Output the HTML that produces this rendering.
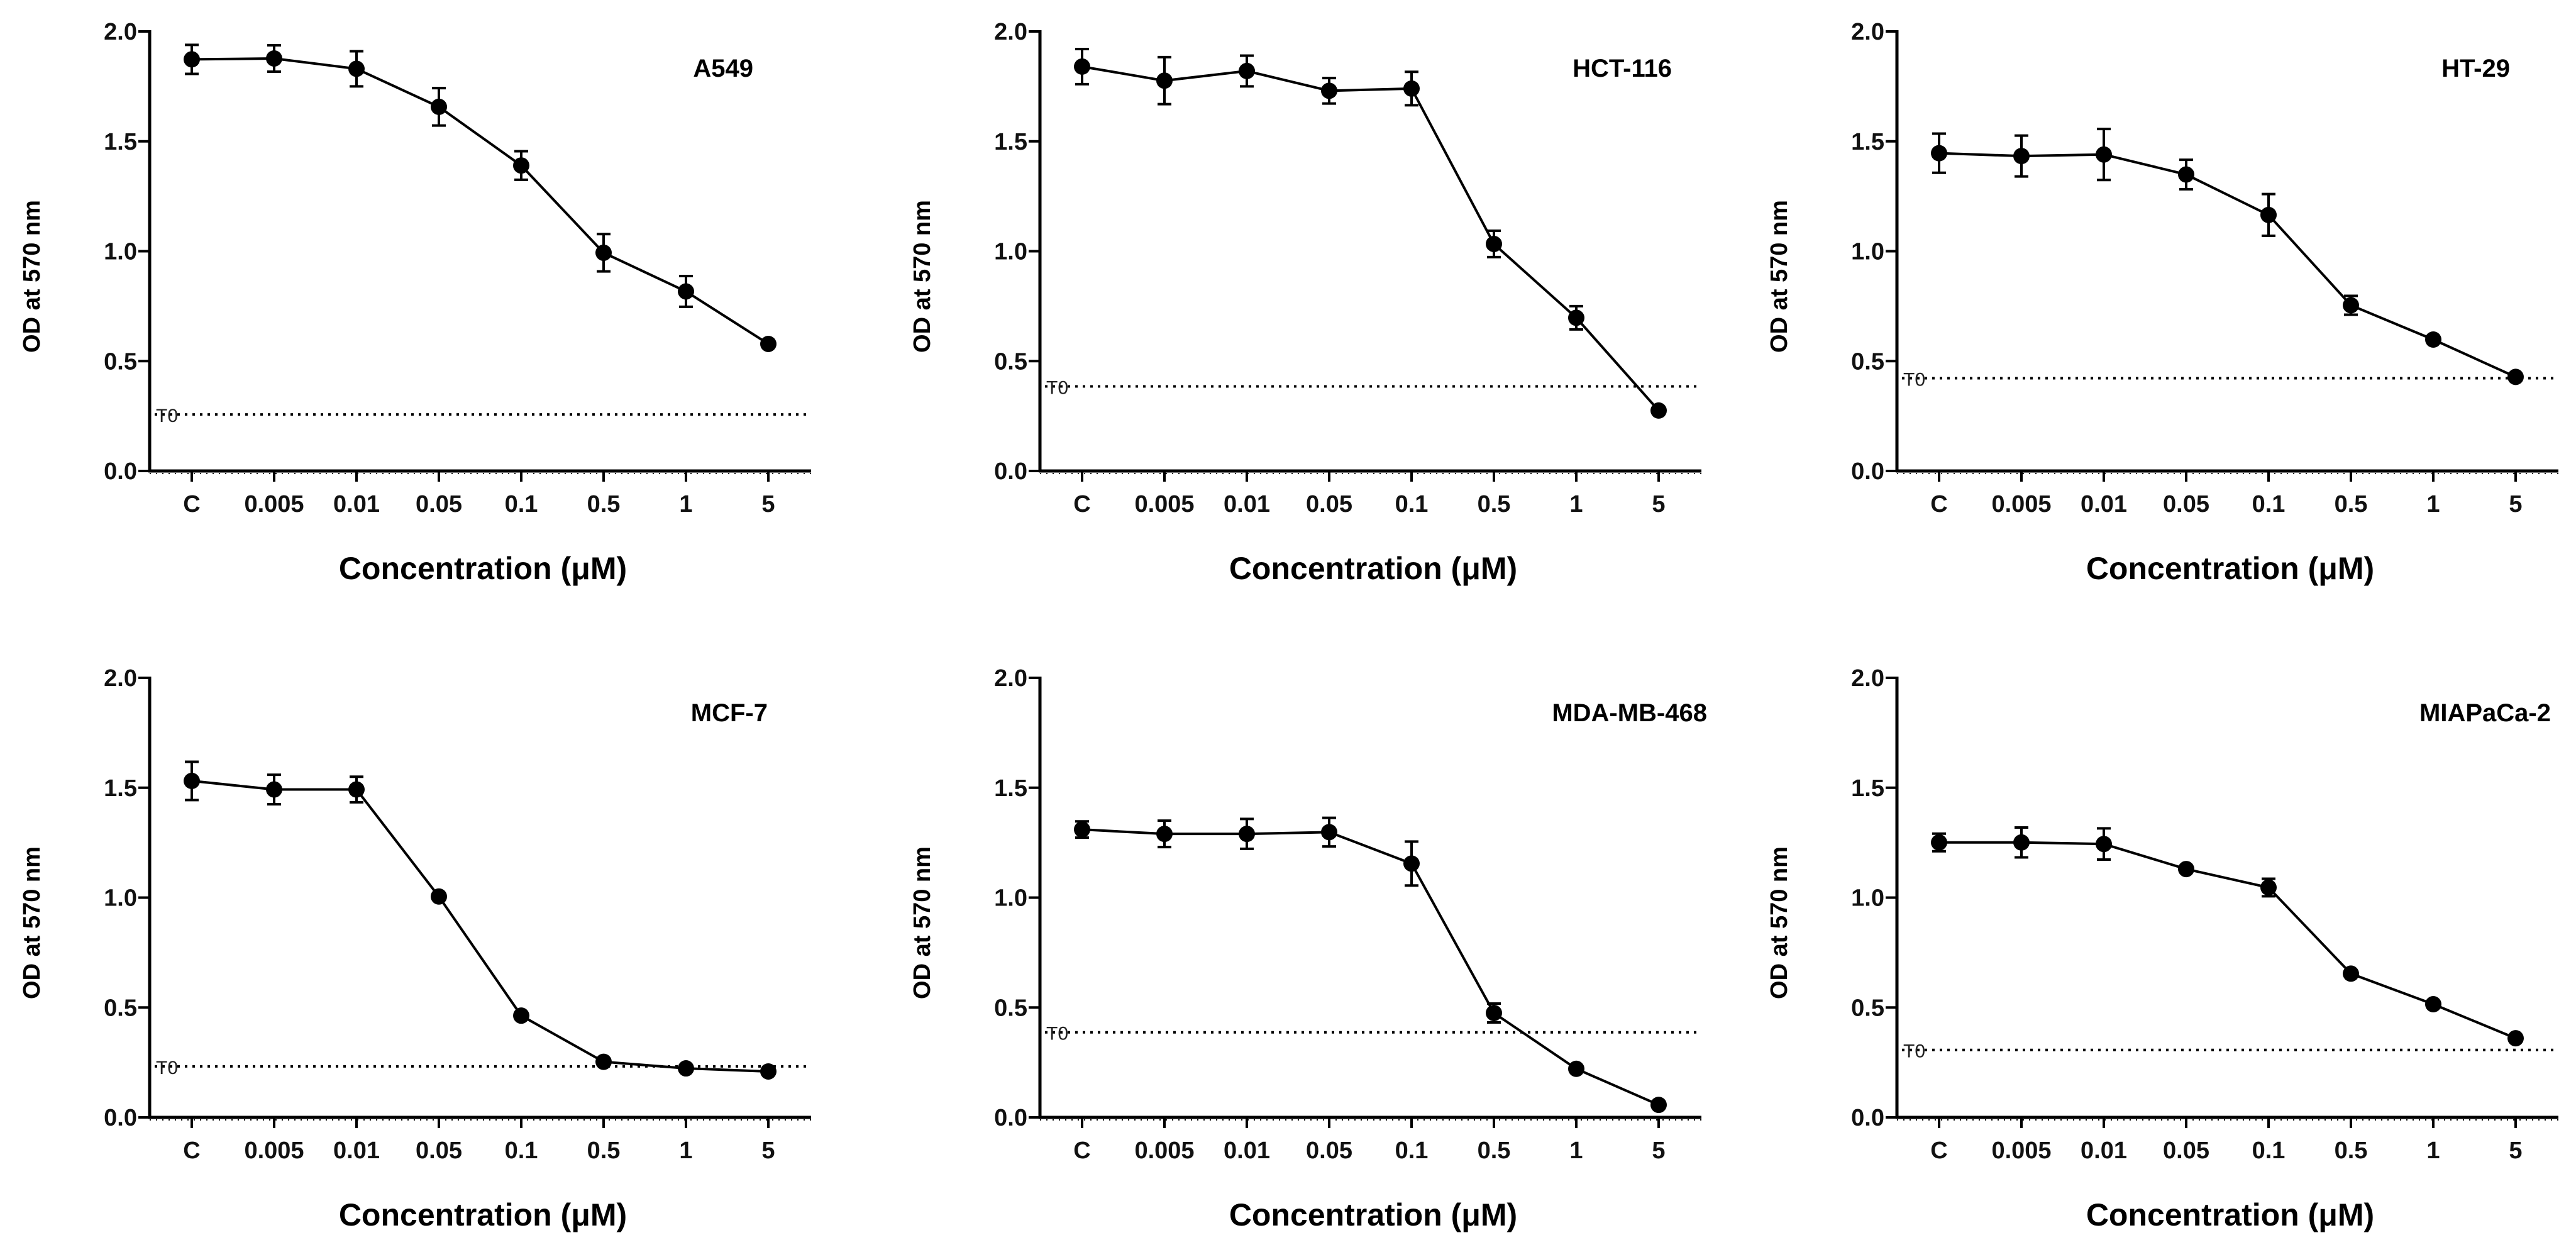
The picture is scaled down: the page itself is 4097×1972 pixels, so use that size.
<!DOCTYPE html>
<html><head><meta charset="utf-8"><style>
html,body{margin:0;padding:0;background:#fff;}
svg{display:block;}
.tick{font-family:"Liberation Sans Narrow","Liberation Sans",sans-serif;font-weight:bold;font-size:38px;fill:#111;}
.ttl{font-family:"Liberation Sans Narrow","Liberation Sans",sans-serif;font-weight:bold;font-size:50px;fill:#000;}
.yt{font-family:"Liberation Sans",sans-serif;font-weight:bold;font-size:38px;fill:#000;}
.lab{font-family:"Liberation Sans Narrow","Liberation Sans",sans-serif;font-weight:bold;font-size:40px;fill:#000;}
.t0{font-family:"Liberation Sans Narrow","Liberation Sans",sans-serif;font-size:30px;fill:#222;}
</style></head><body>
<svg id="fig" width="4097" height="1972" viewBox="0 0 4097 1972" xmlns="http://www.w3.org/2000/svg"></svg>
<script>
const categories = ["C","0.005","0.01","0.05","0.1","0.5","1","5"];
const yTicks = [0,0.5,1.0,1.5,2.0];
const yTickLabels = ["0.0","0.5","1.0","1.5","2.0"];
const panelNames = ["A549","HCT-116","HT-29","MCF-7","MDA-MB-468","MIAPaCa-2"];
const valsA549 = [1.873,1.877,1.83,1.657,1.39,0.993,0.817,0.578];
const errA549 = [0.066,0.06,0.08,0.085,0.065,0.085,0.07,0.01];
const valsHCT = [1.84,1.776,1.82,1.73,1.74,1.033,0.697,0.275];
const errHCT = [0.08,0.107,0.07,0.058,0.076,0.06,0.053,0.01];
const valsHT = [1.446,1.433,1.44,1.349,1.165,0.754,0.598,0.428];
const errHT = [0.089,0.093,0.116,0.067,0.095,0.043,0.015,0.01];
const valsMCF = [1.531,1.492,1.492,1.005,0.463,0.253,0.223,0.209];
const errMCF = [0.087,0.067,0.058,0.01,0.01,0.01,0.01,0.01];
const valsMDA = [1.31,1.29,1.29,1.298,1.155,0.475,0.221,0.057];
const errMDA = [0.037,0.06,0.068,0.065,0.1,0.043,0.01,0.01];
const valsMIA = [1.251,1.251,1.244,1.13,1.046,0.654,0.515,0.36];
const errMIA = [0.04,0.068,0.071,0.015,0.04,0.01,0.01,0.01];
const t0Values = [0.257,0.385,0.422,0.232,0.387,0.307];
const seriesVals = [valsA549,valsHCT,valsHT,valsMCF,valsMDA,valsMIA];
const seriesErr = [errA549,errHCT,errHT,errMCF,errMDA,errMIA];

const NS="http://www.w3.org/2000/svg";
const svg=document.getElementById('fig');
function mk(tag,attrs,parent){const e=document.createElementNS(NS,tag);for(const k in attrs)e.setAttribute(k,attrs[k]);(parent||svg).appendChild(e);return e;}

const axX=[238,1654,3017];
const rowTop=[50,1078], rowBot=[749,1777];
const labRight=[1198,2659,3992,1221,2715,4057];
const labY=[122,122,122,1147,1147,1147];

for(let p=0;p<6;p++){
  const col=p%3,row=Math.floor(p/3);
  const ax=axX[col], y0=rowBot[row], y2=rowTop[row];
  const xAxisEnd=ax+1052;
  const g=mk('g',{});
  
  
  const yScale=v=>y0-(v/2)*(y0-y2);
  const xScale=i=>ax+67+i*131;
  // axes
  const ya=mk('line',{x1:ax,y1:y2-2,x2:ax,y2:y0+2,stroke:'#000','stroke-width':5},g);
  
  
  const xa=mk('line',{x1:ax-2,y1:y0,x2:xAxisEnd,y2:y0,stroke:'#000','stroke-width':5},g);
  
  
  mk('line',{x1:ax,y1:y0+4,x2:xAxisEnd,y2:y0+4,stroke:'#000','stroke-width':2,'stroke-dasharray':'2 8'},g);
  yTicks.forEach((v,i)=>{
    const y=yScale(v);
    mk('line',{x1:ax-18,y1:y,x2:ax,y2:y,stroke:'#000','stroke-width':4},g);
    const t=mk('text',{x:ax-20,y:y+13,'text-anchor':'end',class:'tick'},g);
    t.textContent=yTickLabels[i];
    
    
  });
  categories.forEach((c,i)=>{
    const x=xScale(i);
    mk('line',{x1:x,y1:y0,x2:x,y2:y0+17,stroke:'#000','stroke-width':4},g);
    const t=mk('text',{x:x,y:y0+65,'text-anchor':'middle',class:'tick'},g);
    t.textContent=c;
    
    
  });
  // titles
  const xt=mk('text',{x:ax+530,y:y0+172,'text-anchor':'middle',class:'ttl'},g);
  xt.textContent='Concentration (\u03BCM)';
  
  
  const yx=ax-175, yc=(y0+y2)/2+40;
  const yt=mk('text',{x:yx,y:yc,'text-anchor':'middle',class:'yt',transform:`rotate(-90 ${yx} ${yc})`},g);
  yt.textContent='OD at 570 nm';
  
  
  const lb=mk('text',{x:labRight[p],y:labY[p],'text-anchor':'end',class:'lab'},g);
  lb.textContent=panelNames[p];
  
  
  // T0 line
  const ty=yScale(t0Values[p]);
  const tl=mk('line',{x1:ax+8,y1:ty,x2:xAxisEnd,y2:ty,stroke:'#000','stroke-width':4,'stroke-dasharray':'4 8'},g);
  
  
  const tt=mk('text',{x:ax+10,y:ty+12,class:'t0'},g);
  tt.textContent='T0';
  
  
  // series
  const vals=seriesVals[p], errs=seriesErr[p];
  const pts=vals.map((v,i)=>xScale(i)+','+yScale(v)).join(' ');
  const pl=mk('polyline',{points:pts,fill:'none',stroke:'#000','stroke-width':4},g);
  
  
  vals.forEach((v,i)=>{
    const x=xScale(i), yTop=yScale(v+errs[i]), yB=yScale(v-errs[i]);
    const eg=mk('g',{},g);
    
    
    mk('line',{x1:x,y1:yTop,x2:x,y2:yB,stroke:'#000','stroke-width':4},eg);
    mk('line',{x1:x-11,y1:yTop,x2:x+11,y2:yTop,stroke:'#000','stroke-width':4},eg);
    mk('line',{x1:x-11,y1:yB,x2:x+11,y2:yB,stroke:'#000','stroke-width':4},eg);
    const c=mk('circle',{cx:x,cy:yScale(v),r:13,fill:'#000'},g);
    
    
  });
}
</script>
</body></html>
